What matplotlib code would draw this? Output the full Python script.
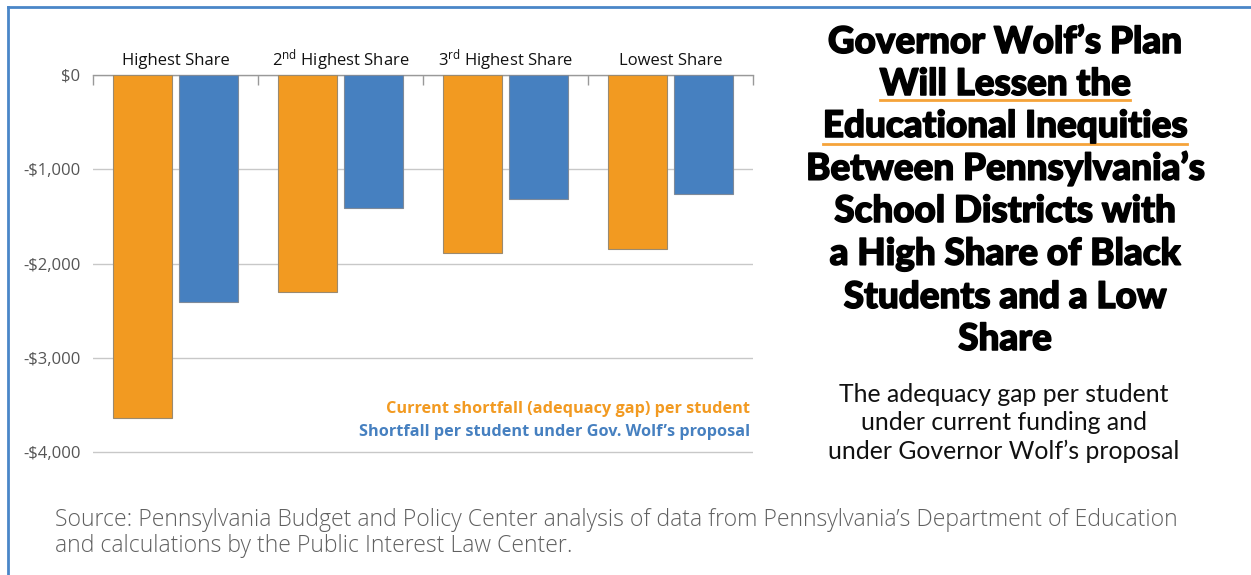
import matplotlib
matplotlib.use("Agg")
import matplotlib.pyplot as plt
import matplotlib.patheffects as pe
from matplotlib.lines import Line2D
from matplotlib.transforms import blended_transform_factory
import numpy as np

categories = ["Highest Share", "2$^{\\mathrm{nd}}$ Highest Share",
              "3$^{\\mathrm{rd}}$ Highest Share", "Lowest Share"]
current_gap = [-3640, -2300, -1890, -1845]
proposal_gap = [-2405, -1410, -1315, -1265]
ytick_values = [0, -1000, -2000, -3000, -4000]
ytick_labels = ["$0", "-$1,000", "-$2,000", "-$3,000", "-$4,000"]

ORANGE = "#F29A21"
BLUE = "#4680C0"
GRID = "#C8C8C8"
TICKTXT = "#555555"

plt.rcParams["mathtext.fontset"] = "custom"
plt.rcParams["mathtext.rm"] = "Open Sans"
plt.rcParams["mathtext.it"] = "Open Sans:italic"
plt.rcParams["mathtext.bf"] = "Open Sans:bold"

W, H = 1251, 575
fig = plt.figure(figsize=(W / 100, H / 100), dpi=100)

def px(x, y):
    return x / W, 1 - y / H

# axes: x from 93 to 753 px, y=0 at 75 px, -4000 at 452 px
scale = (452 - 75) / 4000.0
ymin = -4050
bottom_px = 75 + (-ymin) * scale
ax = fig.add_axes([93 / W, 1 - bottom_px / H, (753 - 93) / W, (bottom_px - 75) / H])
ax.set_xlim(-0.5, 3.5)
ax.set_ylim(ymin, 0)

x = np.arange(len(categories))
bw = 0.355
off = 0.2
ax.bar(x - off, current_gap, bw, color=ORANGE, edgecolor="#9a8a70", linewidth=0.8, zorder=3)
ax.bar(x + off, proposal_gap, bw, color=BLUE, edgecolor="#7f8a99", linewidth=0.8, zorder=3)

for s in ["left", "right", "bottom"]:
    ax.spines[s].set_visible(False)
ax.spines["top"].set_color("#999999")
ax.spines["top"].set_linewidth(1.0)

ax.set_yticks(ytick_values)
ax.set_yticklabels(ytick_labels, fontsize=12, color=TICKTXT, family="Open Sans")
ax.tick_params(axis="y", length=0, pad=9)
ax.yaxis.grid(True, color=GRID, linewidth=1.0, zorder=0)
ax.set_axisbelow(True)

ax.xaxis.tick_top()
ax.set_xticks(np.arange(-0.5, 4.0, 1.0))
ax.set_xticklabels([])
ax.tick_params(axis="x", which="major", direction="in", length=7, color="#999999", width=1.0)

# category names share one baseline above the zero line
trans = blended_transform_factory(ax.transData, fig.transFigure)
for xi, name in zip(x, categories):
    ax.text(xi, 1 - 65 / H, name, transform=trans, ha="center", va="baseline",
            fontsize=12, color="#111111", family="Open Sans")

# series labels inside the plot
fig.text(*px(750, 409), "Current shortfall (adequacy gap) per student", ha="right", va="center",
         color=ORANGE, fontsize=11.7, fontweight="bold", family="Open Sans")
fig.text(*px(750, 432), "Shortfall per student under Gov. Wolf\u2019s proposal", ha="right", va="center",
         color=BLUE, fontsize=11.7, fontweight="bold", family="Open Sans")

# headline
title_lines = ["Governor Wolf\u2019s Plan", "Will Lessen the", "Educational Inequities",
               "Between Pennsylvania\u2019s", "School Districts with", "a High Share of Black",
               "Students and a Low", "Share"]
title_y = [42, 84, 126, 168, 211, 254, 297, 339]
title_texts = []
for line, yy in zip(title_lines, title_y):
    t = fig.text(*px(1005, yy), line, ha="center", va="center", fontsize=26.5,
                 fontweight="black", family="Lato", color="#000000",
                 path_effects=[pe.withStroke(linewidth=1.1, foreground="#000000")])
    title_texts.append(t)

sub_lines = ["The adequacy gap per student", "under current funding and",
             "under Governor Wolf\u2019s proposal"]
for line, yy in zip(sub_lines, [395, 423, 451]):
    fig.text(*px(1004, yy), line, ha="center", va="center", fontsize=17.8,
             family="Lato", color="#111111")

fig.text(*px(55, 520), "Source: Pennsylvania Budget and Policy Center analysis of data from "
         "Pennsylvania\u2019s Department of Education", ha="left", va="center", fontsize=16.6,
         family="Open Sans", fontweight="light", color="#606060")
fig.text(*px(55, 546), "and calculations by the Public Interest Law Center.", ha="left",
         va="center", fontsize=16.6, family="Open Sans", fontweight="light", color="#606060")

# orange underlines beneath two headline lines
fig.canvas.draw()
renderer = fig.canvas.get_renderer()
for idx, uy in [(1, 100), (2, 144)]:
    bb = title_texts[idx].get_window_extent(renderer)
    x0, x1 = bb.x0 / W, bb.x1 / W
    fig.add_artist(Line2D([x0, x1], [1 - uy / H, 1 - uy / H], color="#F5A33A", linewidth=2.0))

# frame lines on the top and left edges
fig.add_artist(Line2D([8 / W, 1.0], [1 - 7 / H, 1 - 7 / H], color="#4A86C8", linewidth=2.0))
fig.add_artist(Line2D([8 / W, 8 / W], [0, 1 - 7 / H], color="#4A86C8", linewidth=2.0))

fig.savefig("out.png", dpi=100)
